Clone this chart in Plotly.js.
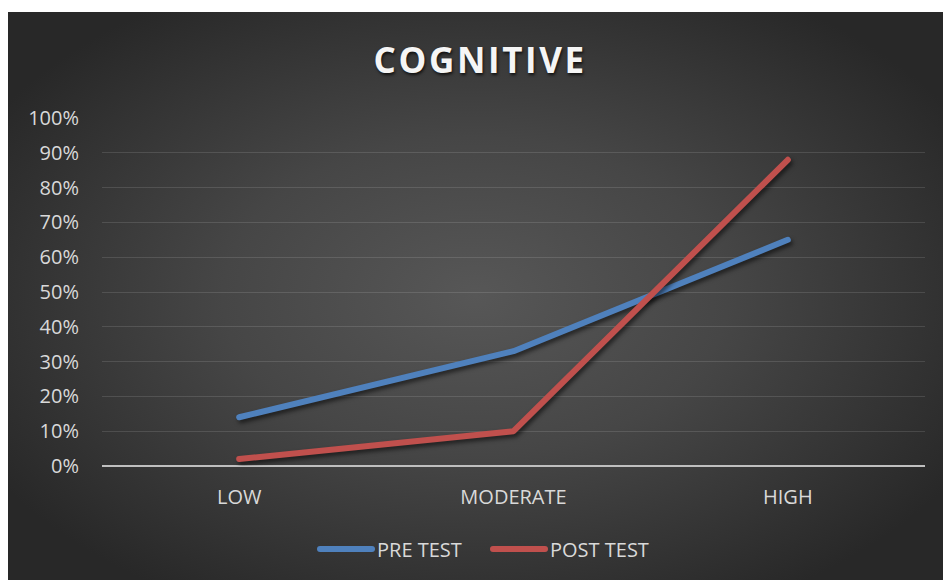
<!DOCTYPE html>
<html>
<head>
<meta charset="utf-8">
<script src="https://cdn.plot.ly/plotly-3.0.1.min.js"></script>
<style>
  html, body { margin: 0; padding: 0; background: #ffffff; }
  #chart {
    position: absolute; left: 8px; top: 12px; width: 935px; height: 568px;
    background: radial-gradient(ellipse 60% 62% at 50% 50%, #575757 0%, #464646 45%, #333333 80%, #282828 100%);
  }
  #chart .gtitle { letter-spacing: 2.6px; }
  #chart .scatterlayer .trace path.js-line { filter: drop-shadow(2px 3px 2px rgba(0,0,0,0.55)); stroke-linecap: round !important; stroke-linejoin: round !important; }
  #chart .legendlines path { stroke-linecap: round !important; }
</style>
</head>
<body>
<div id="chart"></div>
<script>
const categories = ["LOW", "MODERATE", "HIGH"];
const preTest = [0.14, 0.33, 0.65];
const postTest = [0.02, 0.10, 0.88];
const yTickVals = [0, 0.1, 0.2, 0.3, 0.4, 0.5, 0.6, 0.7, 0.8, 0.9, 1.0];
const yTickText = ["0%", "10%", "20%", "30%", "40%", "50%", "60%", "70%", "80%", "90%", "100%"];

const font = "Open Sans, Lato, sans-serif";
const textColor = "#d9d9d9";

const traces = [
  { x: categories, y: preTest, name: "PRE TEST", type: "scatter", mode: "lines",
    line: { color: "#4f81bd", width: 6 } },
  { x: categories, y: postTest, name: "POST TEST", type: "scatter", mode: "lines",
    line: { color: "#c0504d", width: 6 } }
];

const layout = {
  width: 935, height: 568,
  paper_bgcolor: "rgba(0,0,0,0)", plot_bgcolor: "rgba(0,0,0,0)",
  margin: { l: 94, r: 18, t: 106, b: 114 },
  title: {
    text: "<b>COGNITIVE</b>",
    font: { family: font, size: 35, color: "#f5f5f5", shadow: "1px 2px 3px rgba(0,0,0,0.7)" },
    x: 0.505, xref: "container", xanchor: "center",
    y: 1 - 49/568, yref: "container", yanchor: "middle"
  },
  xaxis: {
    type: "category", range: [-0.5, 2.5],
    showgrid: false, zeroline: false, showline: false,
    ticks: "", ticklabelstandoff: 17,
    tickfont: { family: font, size: 20, color: textColor }
  },
  yaxis: {
    range: [0, 1], tickvals: yTickVals, ticktext: yTickText,
    showgrid: true, gridcolor: "rgba(255,255,255,0.12)", gridwidth: 1,
    zeroline: true, zerolinecolor: "#bfbfbf", zerolinewidth: 2,
    showline: false, ticks: "", ticklabelstandoff: 22,
    tickfont: { family: font, size: 20, color: textColor }
  },
  showlegend: true,
  legend: {
    orientation: "h", xref: "container", yref: "container",
    x: (490 - 8) / 935, xanchor: "center", y: 1 - 537/568, yanchor: "middle",
    font: { family: font, size: 20, color: textColor },
    bgcolor: "rgba(0,0,0,0)", itemwidth: 50, tracegroupgap: 0,
    entrywidth: 108, entrywidthmode: "pixels"
  }
};

Plotly.newPlot("chart", traces, layout, { displayModeBar: false, staticPlot: true }).then(function (gd) {
  gd.querySelectorAll(".legendlines path").forEach(function (p) {
    p.setAttribute("d", "M3,0h52");
  });
});
</script>
</body>
</html>
